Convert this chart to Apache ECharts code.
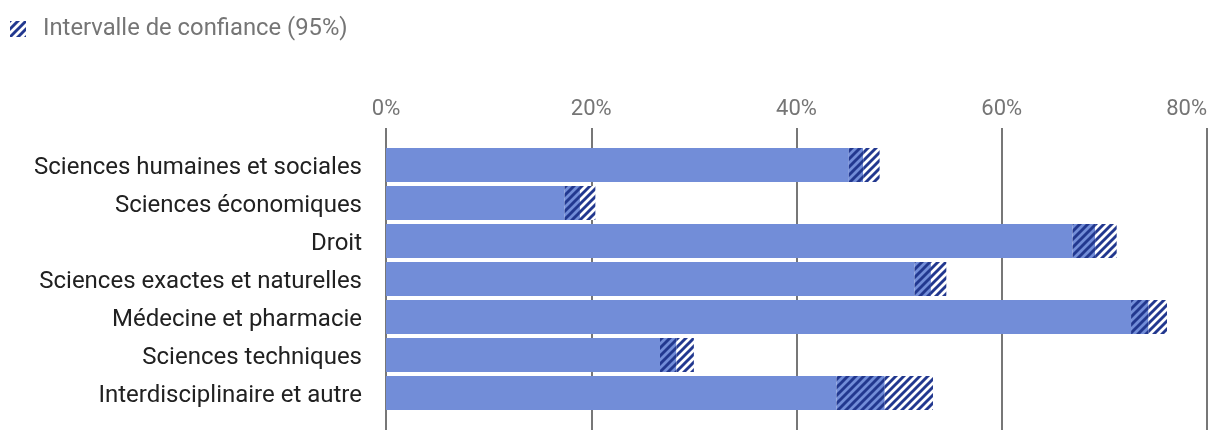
<!DOCTYPE html>
<html><head><meta charset="utf-8">
<script src="https://cdn.jsdelivr.net/npm/echarts@6/dist/echarts.min.js"></script>
<style>html,body{margin:0;padding:0;background:#fff}#c{width:1220px;height:442px}</style>
</head><body><div id="c"></div>
<script>
const categories = ["Sciences humaines et sociales","Sciences économiques","Droit","Sciences exactes et naturelles","Médecine et pharmacie","Sciences techniques","Interdisciplinaire et autre"];
const lowValues  = [45.1, 17.4, 66.9, 51.5, 72.6, 26.7, 43.9];
const values     = [46.5, 18.9, 69.1, 53.1, 74.3, 28.3, 48.6];
const highValues = [48.1, 20.4, 71.2, 54.6, 76.1, 30.0, 53.3];
const tickLabels = ["0%","20%","40%","60%","80%"];

const BAR = '#728dd8', DARK = '#22388f';
function hatch(bg){
  const c = document.createElement('canvas'); c.width = 8; c.height = 8;
  const g = c.getContext('2d');
  if (bg) { g.fillStyle = bg; g.fillRect(0,0,8,8); }
  g.strokeStyle = DARK; g.lineWidth = 2.9;
  g.beginPath();
  g.moveTo(-4,4); g.lineTo(4,-4);
  g.moveTo(0,8); g.lineTo(8,0);
  g.moveTo(4,12); g.lineTo(12,4);
  g.stroke();
  return {image: c, repeat: 'repeat'};
}
const innerDiff = values.map((v,i)=> +(v - lowValues[i]).toFixed(2));
const outerDiff = highValues.map((v,i)=> +(v - values[i]).toFixed(2));

const chart = echarts.init(document.getElementById('c'), null, {renderer:'canvas'});
chart.setOption({
  animation:false,
  legend:{left:5, top:12, itemWidth:16, itemHeight:16, icon:'rect',
    data:['Intervalle de confiance (95%)'],
    textStyle:{fontFamily:'Roboto', fontSize:23.8, color:'#757575', padding:[0,0,0,12]}},
  grid:[
    {left:386, right:13, top:146, height:266},
    {left:386, right:13, top:128, bottom:12}
  ],
  xAxis:[
    {gridIndex:0, type:'value', min:0, max:80, interval:20, show:false},
    {gridIndex:1, type:'value', position:'top', min:0, max:80, interval:20,
      axisLine:{show:false}, axisTick:{show:false},
      axisLabel:{fontFamily:'Roboto', fontSize:22, color:'#757575', margin:8, alignMaxLabel:'right',
        formatter:(v)=>tickLabels[Math.round(v/20)]},
      splitLine:{lineStyle:{color:'#777', width:2}}}
  ],
  yAxis:[
    {gridIndex:0, type:'category', data:categories, inverse:true,
      axisLine:{show:false}, axisTick:{show:false},
      axisLabel:{margin:24, formatter:(v)=>'{a|' + v + '}',
        rich:{a:{fontFamily:'Roboto', fontSize:24, color:'#212121', padding:[6,0,0,0]}}}},
    {gridIndex:1, type:'category', data:categories, show:false}
  ],
  series:[
    {name:'base', type:'bar', stack:'s', data:lowValues, barWidth:34, itemStyle:{color:BAR}, silent:true},
    {name:'inner', type:'bar', stack:'s', data:innerDiff, barWidth:34, itemStyle:{color:hatch(BAR)}, silent:true},
    {name:'Intervalle de confiance (95%)', type:'bar', stack:'s', data:outerDiff, barWidth:34, itemStyle:{color:hatch('#ffffff')}, silent:true}
  ]
});
</script></body></html>
